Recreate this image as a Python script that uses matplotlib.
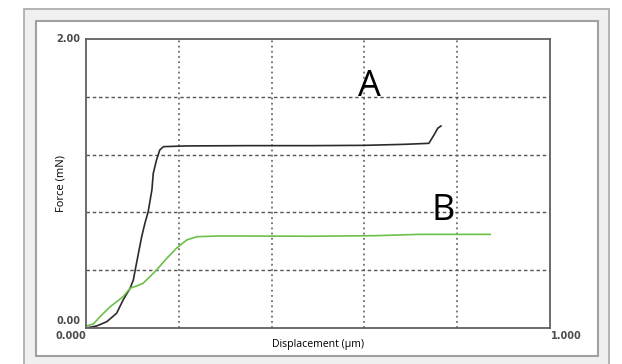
import matplotlib
matplotlib.use("Agg")

import matplotlib.pyplot as plt
from matplotlib.patches import Rectangle

# displacement (um) / force (mN) for the two indents
disp_a = [0.000, 0.023, 0.045, 0.066, 0.080, 0.095, 0.102, 0.106, 0.113, 0.120,
          0.127, 0.134, 0.142, 0.145, 0.152, 0.159, 0.167, 0.217, 0.353, 0.485,
          0.599, 0.686, 0.739, 0.750, 0.758, 0.765]
force_a = [0.000, 0.014, 0.044, 0.102, 0.194, 0.275, 0.332, 0.401, 0.517, 0.632,
           0.725, 0.805, 0.955, 1.071, 1.163, 1.232, 1.255, 1.260, 1.262, 1.262,
           1.264, 1.271, 1.278, 1.336, 1.382, 1.398]

disp_b = [0.000, 0.016, 0.030, 0.052, 0.080, 0.095, 0.109, 0.123, 0.152, 0.174,
          0.195, 0.217, 0.239, 0.289, 0.485, 0.625, 0.718, 0.871]
force_b = [0.014, 0.028, 0.078, 0.147, 0.217, 0.275, 0.291, 0.309, 0.401, 0.482,
           0.552, 0.609, 0.632, 0.637, 0.635, 0.639, 0.648, 0.648]

x_max = 1.0
y_max = 2.0
x_ticks = [0.2, 0.4, 0.6, 0.8]
y_ticks = [0.4, 0.8, 1.2, 1.6]

W, H = 622, 364
fig = plt.figure(figsize=(W / 100, H / 100), dpi=100)
fig.patch.set_facecolor("white")


def px_rect(x0, y0, x1, y1, **kw):
    # rectangle given in pixel coords (origin top-left)
    r = Rectangle((x0 / W, 1 - y1 / H), (x1 - x0) / W, (y1 - y0) / H,
                  transform=fig.transFigure, zorder=-5, **kw)
    fig.patches.append(r)


# window frame + white panel
px_rect(24, 9, 609, 370, facecolor="#f0f0f0", edgecolor="#a8a8a8", lw=1.2)
px_rect(36, 21, 598, 356, facecolor="white", edgecolor="#a0a0a0", lw=1.5)

ax = fig.add_axes([86 / W, 1 - 328 / H, (550 - 86) / W, (328 - 39) / H])
ax.set_xlim(0, x_max)
ax.set_ylim(0, y_max)
ax.set_xticks(x_ticks)
ax.set_yticks(y_ticks)
ax.tick_params(length=0, labelbottom=False, labelleft=False)
ax.xaxis.grid(True, color="#555555", lw=1.1, linestyle=(0, (1.2, 2.2)))
ax.yaxis.grid(True, color="#555555", lw=1.0, linestyle=(0, (2.5, 2)))
for s in ax.spines.values():
    s.set_color("#606060")
    s.set_linewidth(1.3)

ax.plot(disp_a, force_a, color="#2b2b2b", lw=1.2)
ax.plot(disp_b, force_b, color="#6cc04a", lw=1.2)

ax.text(0.611, 1.67, "A", fontsize=26, family="Open Sans", ha="center", va="center")
ax.text(0.769, 0.81, "B", fontsize=26, family="Open Sans", ha="center", va="center")

# axis range labels
lab = dict(fontsize=7, color="#4a4a4a", family="DejaVu Sans", fontweight="bold")
ax.text(-0.012, y_max, "2.00", ha="right", va="center", **lab)
ax.text(-0.012, 0.05, "0.00", ha="right", va="center", **lab)
ax.text(0.0, -0.055, "0.000", ha="right", va="center", **lab)
ax.text(x_max + 0.003, -0.055, "1.000", ha="left", va="center", **lab)

ax.set_xlabel("Displacement (µm)", fontsize=7.6, family="Open Sans", labelpad=8)
ax.set_ylabel("Force (mN)", fontsize=8, family="Open Sans", labelpad=14)

fig.savefig("out.png", dpi=100)
